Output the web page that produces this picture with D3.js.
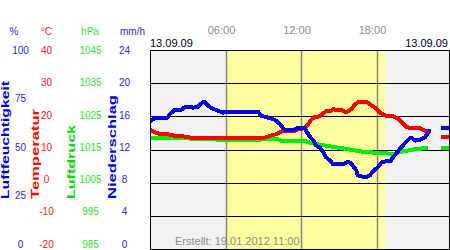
<!DOCTYPE html>
<html>
<head>
<meta charset="utf-8">
<script src="https://cdn.jsdelivr.net/npm/d3@7"></script>
<style>
  body { margin: 0; background: #fff; }
  svg { display: block; font-family: "Liberation Sans", Arial, sans-serif; }
</style>
</head>
<body>
<div id="chart"></div>
<script>
// tick labels of the four left axes
var humTicks = [100, 75, 50, 25, 0];
var tempTicks = [40, 30, 20, 10, 0, -10, -20];
var presTicks = [1045, 1035, 1025, 1015, 1005, 995, 985];
var rainTicks = [24, 20, 16, 12, 8, 4, 0];
var timeTicks = [6, 12, 18];
var timeLabels = ['06:00', '12:00', '18:00'];
var dayLight = [6.0, 18.7];

// humidity (%), hours of the day
var humTime = [0, 0.4, 1.4, 1.6, 2.0, 2.5, 2.8, 3.2, 3.4, 3.8, 4.05, 4.3, 4.6, 5.0, 5.4, 5.8,
  6.0, 8.6, 8.8, 9.4, 9.9, 10.3, 10.6, 10.7, 11.5, 11.8, 12.3, 12.4, 12.7, 13.0, 13.2,
  13.5, 13.75, 14.0, 14.3, 14.55, 15.3, 15.6, 15.9, 16.1, 16.4, 16.5, 17.1, 17.5, 17.7,
  18.1, 18.4, 18.7, 19.1, 19.3, 19.7, 19.95, 20.3, 20.7, 21.1, 21.5, 21.85, 22.25, 22.6,
  23.1, 23.9];
var humVals = [64, 66, 66, 68, 70, 70, 71.5, 71.5, 71, 71.5, 73, 74, 72, 70.5, 69.5, 68.5,
  69, 69, 67, 66, 65, 63, 60.5, 60, 60, 61, 61, 59.5, 56.5, 54.5, 52,
  51, 49, 46, 44.5, 42.5, 42.5, 43.5, 43.5, 42, 39.5, 37, 36, 37, 39,
  41, 43.5, 44, 44, 46, 49, 51, 53.5, 56, 54.5, 55, 56, 60, null,
  61, 61];

// temperature (°C)
var tempTime = [0, 0.4, 0.87, 1.43, 2.0, 2.46, 3.0, 3.58, 4.37, 5.96, 8.6, 9.14, 9.6, 10.0,
  10.33, 10.57, 11.5, 11.76, 12.3, 12.56, 12.8, 13.1, 13.35, 13.6, 14.0, 14.4, 14.55, 14.8,
  15.2, 15.5, 15.7, 16.0, 16.3, 16.5, 17.3, 17.57, 17.96, 18.36, 18.76, 19.16, 19.7, 20.1,
  20.35, 20.75, 21.46, 21.86, 22.3, 22.6, 23.13, 23.9];
var tempVals = [15.9, 15.2, 14.6, 14.6, 14.1, 14.1, 13.7, 13.4, 13.6, 13.6, 13.4, 13.6, 14.2, 14.6,
  15.2, 15.6, 15.6, 16.1, 16.4, 17.6, 18.9, 19.9, 19.9, 20.4, 21.6, 21.6, 22.2, 21.9,
  21.9, 21.4, 21.4, 22.2, 23.6, 24.2, 24.2, 23.4, 22.4, 20.9, 20.2, 20.2, 19.4, 17.9,
  16.9, 16.4, 16.4, 15.6, 15.6, null, 13.9, 13.9];

// air pressure (hPa)
var presTime = [0, 0.4, 3.0, 3.26, 5.17, 5.4, 8.6, 8.82, 10.17, 10.4, 12.3, 12.8, 13.6, 14.4,
  15.7, 17.1, 18.7, 19.3, 19.95, 21.07, 22.1, 22.6, 23.13, 23.9];
var presVals = [1018.6, 1018.4, 1018.4, 1018.2, 1018.2, 1017.8, 1017.8, 1018.1, 1018.1, 1017.6,
  1017.6, 1016.9, 1016.4, 1015.9, 1015.1, 1014.2, 1013.9, 1013.6, 1014.3, 1015.1, 1015.5,
  null, 1015.5, 1015.5];

var W = 450, H = 250;
var pL = 150, pT = 50, pR = 449, pB = 249;

var svg = d3.select('#chart').append('svg')
  .attr('width', W)
  .attr('height', H);

var x = d3.scaleLinear().domain([0, 24]).range([pL, 452]);
var yHum = d3.scaleLinear().domain([0, 100]).range([pB, pT]);
var yTemp = d3.scaleLinear().domain([-20, 40]).range([pB, pT]);
var yPres = d3.scaleLinear().domain([985, 1045]).range([pB, pT]);

// label positions sit a little higher than the grid
var labHum = d3.scaleLinear().domain([0, 100]).range([244, 50.5]);
var labTemp = d3.scaleLinear().domain([-20, 40]).range([244, 50.5]);
var labPres = d3.scaleLinear().domain([985, 1045]).range([244, 50.5]);
var labRain = d3.scaleLinear().domain([0, 24]).range([244, 50.5]);

svg.append('clipPath').attr('id', 'plot')
  .append('rect').attr('x', pL).attr('y', pT).attr('width', pR - pL).attr('height', pB - pT);

var plot = svg.append('g').attr('clip-path', 'url(#plot)');

plot.append('rect')
  .attr('x', pL).attr('y', pT).attr('width', pR - pL).attr('height', pB - pT)
  .attr('fill', '#f2f2f2');
plot.append('rect')
  .attr('x', x(dayLight[0])).attr('y', pT)
  .attr('width', x(dayLight[1]) - x(dayLight[0])).attr('height', pB - pT)
  .attr('fill', '#ffffa0');

plot.selectAll('.vline').data(timeTicks).enter().append('line')
  .attr('class', 'vline')
  .attr('x1', function(d) { return Math.round(x(d)) + 0.5; })
  .attr('x2', function(d) { return Math.round(x(d)) + 0.5; })
  .attr('y1', pT).attr('y2', pB)
  .attr('stroke', '#858585').attr('stroke-width', 1.5);

plot.selectAll('.hline').data(tempTicks.slice(1, -1)).enter().append('line')
  .attr('class', 'hline')
  .attr('x1', pL).attr('x2', pR)
  .attr('y1', function(d) { return Math.round(yTemp(d)) + 0.5; })
  .attr('y2', function(d) { return Math.round(yTemp(d)) + 0.5; })
  .attr('stroke', '#000').attr('stroke-width', 1);

function drawSeries(times, vals, yScale, color) {
  var pts = times.map(function(t, i) { return [t, vals[i]]; });
  var line = d3.line()
    .defined(function(d) { return d[1] != null; })
    .x(function(d) { return x(d[0]); })
    .y(function(d) { return yScale(d[1]); });
  plot.append('path')
    .attr('d', line(pts))
    .attr('fill', 'none')
    .attr('stroke', color)
    .attr('stroke-width', 4)
    .attr('stroke-linejoin', 'round')
    .attr('shape-rendering', 'crispEdges');
}
drawSeries(presTime, presVals, yPres, '#00ee00');
drawSeries(tempTime, tempVals, yTemp, '#ff0000');
drawSeries(humTime, humVals, yHum, '#0000ee');

svg.append('rect')
  .attr('x', pL + 0.5).attr('y', pT + 0.5)
  .attr('width', pR - pL).attr('height', pB - pT)
  .attr('fill', 'none').attr('stroke', '#000');

svg.append('text')
  .attr('x', 175).attr('y', 245)
  .attr('font-size', 11).attr('fill', '#8c8c8c')
  .text('Erstellt: 19.01.2012 11:00');

// time labels + dates
svg.selectAll('.tlab').data(timeTicks).enter().append('text')
  .attr('class', 'tlab')
  .attr('x', function(d) { return x(d) - 4; })
  .attr('y', 34)
  .attr('text-anchor', 'middle')
  .attr('font-size', 11).attr('fill', '#8c8c9c')
  .text(function(d, i) { return timeLabels[i]; });

svg.append('text').attr('x', 150).attr('y', 47)
  .attr('font-size', 11).attr('fill', '#000022').text('13.09.09');
svg.append('text').attr('x', 448).attr('y', 47).attr('text-anchor', 'end')
  .attr('font-size', 11).attr('fill', '#000022').text('13.09.09');

// left axes
function axisLabels(ticks, scale, xPos, anchor, color) {
  svg.append('g').selectAll('text').data(ticks).enter().append('text')
    .attr('x', xPos)
    .attr('y', function(d) { return scale(d); })
    .attr('dy', '0.35em')
    .attr('text-anchor', anchor)
    .attr('font-size', 10)
    .attr('fill', color)
    .text(function(d) { return d; });
}
axisLabels(humTicks, labHum, 20.5, 'middle', '#2a2aee');
axisLabels(tempTicks, labTemp, 46.5, 'middle', '#ff2020');
axisLabels(presTicks, labPres, 90.5, 'middle', '#33e633');
axisLabels(rainTicks, labRain, 124.5, 'middle', '#2a2aee');

var units = [['%', 14, '#2a2aee'], ['°C', 46.5, '#ff2020'], ['hPa', 90, '#33e633'], ['mm/h', 132.5, '#2a2aee']];
svg.selectAll('.unit').data(units).enter().append('text')
  .attr('class', 'unit')
  .attr('x', function(d) { return d[1]; })
  .attr('y', 34.5)
  .attr('text-anchor', 'middle')
  .attr('font-size', 10)
  .attr('fill', function(d) { return d[2]; })
  .text(function(d) { return d[0]; });

var titles = [['Luftfeuchtigkeit', 8.5, 118, '#0000dd'], ['Temperatur', 38.5, 90, '#ff0000'],
  ['Luftdruck', 74.5, 74, '#00dd00'], ['Niederschlag', 115.5, 104, '#0000dd']];
svg.selectAll('.title').data(titles).enter().append('text')
  .attr('class', 'title')
  .attr('transform', function(d) { return 'translate(' + d[1] + ',199) rotate(-90)'; })
  .attr('font-size', 10)
  .attr('font-weight', 'bold')
  .attr('textLength', function(d) { return d[2]; })
  .attr('lengthAdjust', 'spacingAndGlyphs')
  .attr('fill', function(d) { return d[3]; })
  .text(function(d) { return d[0]; });
</script>
</body>
</html>
